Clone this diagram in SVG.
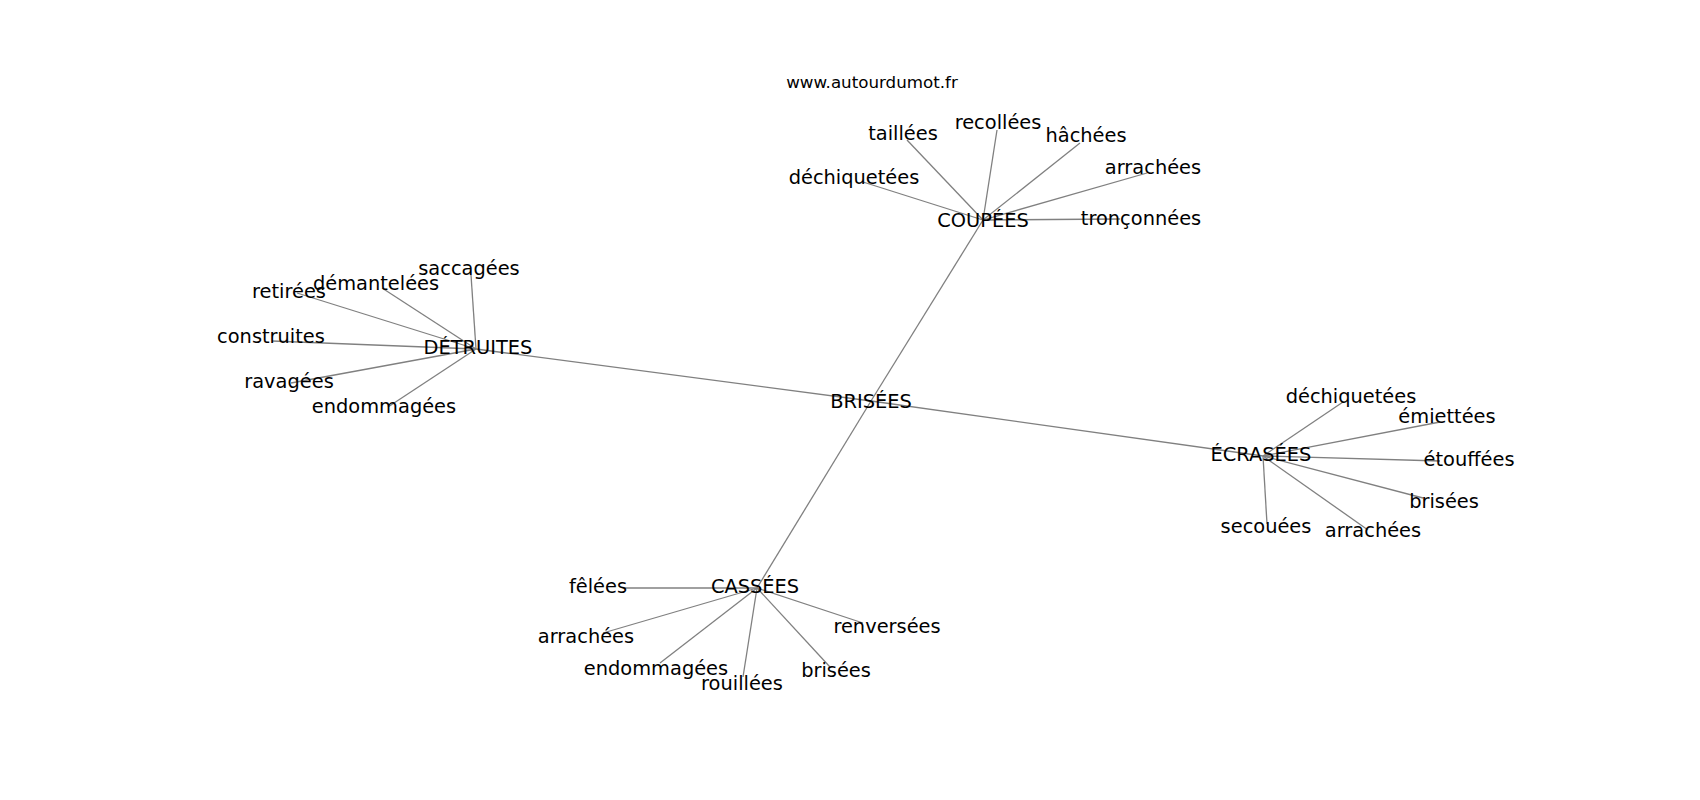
<svg xmlns="http://www.w3.org/2000/svg" width="1700" height="800" viewBox="0 0 1700 800">
<style>
  .e { stroke: #808080; stroke-width: 1.3; fill: none; }
  text { font-family: "DejaVu Sans", "Liberation Sans", sans-serif; fill: #000; text-anchor: middle; font-size: 19.4px; }
  .src { font-size: 16.7px; }
</style>
<rect x="0" y="0" width="1700" height="800" fill="#fff"/>
<g id="connectors">
  <line class="e" x1="871" y1="401" x2="983" y2="220"/>
  <line class="e" x1="871" y1="401" x2="476" y2="349"/>
  <line class="e" x1="871" y1="401" x2="1263" y2="456"/>
  <line class="e" x1="871" y1="401" x2="757" y2="588"/>
  <line class="e" x1="983" y1="220" x2="907" y2="140"/>
  <line class="e" x1="983" y1="220" x2="997" y2="130"/>
  <line class="e" x1="983" y1="220" x2="1080" y2="143"/>
  <line class="e" x1="983" y1="220" x2="1147" y2="173"/>
  <line class="e" x1="983" y1="220" x2="863" y2="182"/>
  <line class="e" x1="983" y1="220" x2="1120" y2="219"/>
  <line class="e" x1="476" y1="349" x2="471" y2="275"/>
  <line class="e" x1="476" y1="349" x2="382" y2="288"/>
  <line class="e" x1="476" y1="349" x2="297" y2="293"/>
  <line class="e" x1="476" y1="349" x2="272" y2="341"/>
  <line class="e" x1="476" y1="349" x2="291" y2="383"/>
  <line class="e" x1="476" y1="349" x2="388" y2="407"/>
  <line class="e" x1="757" y1="588" x2="624" y2="588"/>
  <line class="e" x1="757" y1="588" x2="603" y2="633"/>
  <line class="e" x1="757" y1="588" x2="660" y2="663"/>
  <line class="e" x1="757" y1="588" x2="743" y2="677"/>
  <line class="e" x1="757" y1="588" x2="830" y2="667"/>
  <line class="e" x1="757" y1="588" x2="863" y2="623"/>
  <line class="e" x1="1263" y1="456" x2="1343" y2="402"/>
  <line class="e" x1="1263" y1="456" x2="1440" y2="422"/>
  <line class="e" x1="1263" y1="456" x2="1440" y2="461"/>
  <line class="e" x1="1263" y1="456" x2="1423" y2="498"/>
  <line class="e" x1="1263" y1="456" x2="1368" y2="530"/>
  <line class="e" x1="1263" y1="456" x2="1267" y2="524"/>
</g>
<g id="source"><text class="src" x="872" y="88">www.autourdumot.fr</text></g>
<g id="n-brisees"><text x="871" y="408">BRISÉES</text></g>
<g id="n-coupees"><text x="983" y="227">COUPÉES</text></g>
<g id="n-coupees-taillees"><text x="903" y="140">taillées</text></g>
<g id="n-coupees-recollees"><text x="998" y="129">recollées</text></g>
<g id="n-coupees-hachees"><text x="1086" y="142">hâchées</text></g>
<g id="n-coupees-arrachees"><text x="1153" y="174">arrachées</text></g>
<g id="n-coupees-dechiquetees"><text x="854" y="184">déchiquetées</text></g>
<g id="n-coupees-tronconnees"><text x="1141" y="225">tronçonnées</text></g>
<g id="n-detruites"><text x="478" y="354">DÉTRUITES</text></g>
<g id="n-detruites-saccagees"><text x="469" y="275">saccagées</text></g>
<g id="n-detruites-demantelees"><text x="376" y="290">démantelées</text></g>
<g id="n-detruites-retirees"><text x="289" y="298">retirées</text></g>
<g id="n-detruites-construites"><text x="271" y="343">construites</text></g>
<g id="n-detruites-ravagees"><text x="289" y="388">ravagées</text></g>
<g id="n-detruites-endommagees"><text x="384" y="413">endommagées</text></g>
<g id="n-cassees"><text x="755" y="593">CASSÉES</text></g>
<g id="n-cassees-felees"><text x="598" y="593">fêlées</text></g>
<g id="n-cassees-arrachees"><text x="586" y="643">arrachées</text></g>
<g id="n-cassees-endommagees"><text x="656" y="675">endommagées</text></g>
<g id="n-cassees-rouillees"><text x="742" y="690">rouillées</text></g>
<g id="n-cassees-brisees"><text x="836" y="677">brisées</text></g>
<g id="n-cassees-renversees"><text x="887" y="633">renversées</text></g>
<g id="n-ecrasees"><text x="1261" y="461">ÉCRASÉES</text></g>
<g id="n-ecrasees-dechiquetees"><text x="1351" y="403">déchiquetées</text></g>
<g id="n-ecrasees-emiettees"><text x="1447" y="423">émiettées</text></g>
<g id="n-ecrasees-etouffees"><text x="1469" y="466">étouffées</text></g>
<g id="n-ecrasees-brisees"><text x="1444" y="508">brisées</text></g>
<g id="n-ecrasees-arrachees"><text x="1373" y="537">arrachées</text></g>
<g id="n-ecrasees-secouees"><text x="1266" y="533">secouées</text></g>
</svg>
